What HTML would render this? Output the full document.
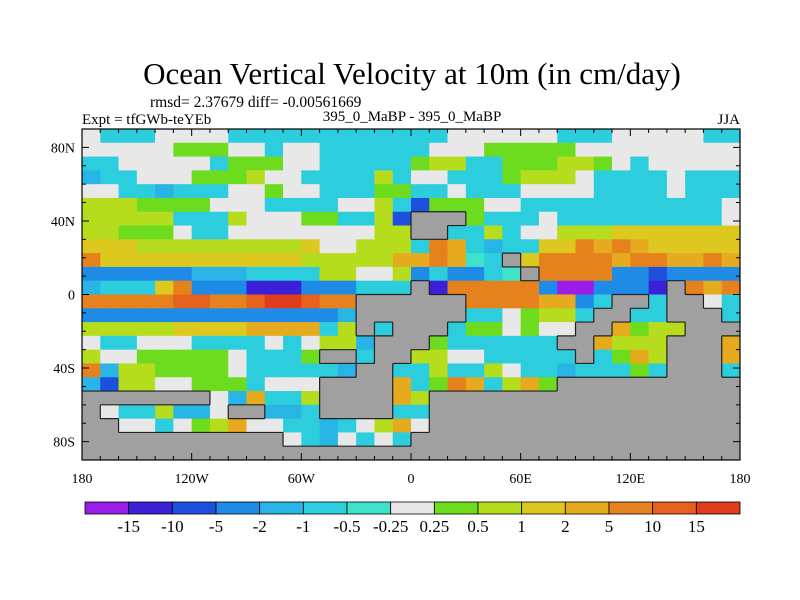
<!DOCTYPE html>
<html><head><meta charset="utf-8"><style>
body{margin:0;background:#fff;}
svg{display:block;font-family:"Liberation Serif",serif;}
</style></head><body>
<svg id="c" width="800" height="600" viewBox="0 0 800 600">
<text x="412" y="84" font-size="31" text-anchor="middle">Ocean Vertical Velocity at 10m (in cm/day)</text>
<text x="150" y="107" font-size="15.5">rmsd= 2.37679 diff= -0.00561669</text>
<text x="82" y="124" font-size="15">Expt = tfGWb-teYEb</text>
<text x="412" y="121" font-size="15" text-anchor="middle">395_0_MaBP - 395_0_MaBP</text>
<text x="740" y="124" font-size="15" text-anchor="end">JJA</text>
<g id="map"></g>
<g id="axes"></g>
<g id="cbar"></g>
</svg>
<script>
const levels=[-15,-10,-5,-2,-1,-0.5,-0.25,0.25,0.5,1,2,5,10,15];
const levelLabels=["-15","-10","-5","-2","-1","-0.5","-0.25","0.25","0.5","1","2","5","10","15"];
const colors=["#9a1ee8","#3c20d8","#1e50e0","#1e8ce6","#28b4e4","#2ccede","#3ee2c8","#e8e8e8","#6edc1e","#b6dc1e","#dcc81e","#e6aa1e","#e6821e","#e6601e","#e03c1e"];
const codeValues={P:-20,B:-12,b:-7,c:-3,t:-1.5,s:-0.7,q:-0.35,w:0,g:0.35,y:0.7,Y:1.5,o:3,O:7,r:12,R:20};
const xTicks=[-180,-120,-60,0,60,120,180];
const xTickLabels=["180","120W","60W","0","60E","120E","180"];
const yTicks=[80,40,0,-40,-80];
const yTickLabels=["80N","40N","0","40S","80S"];
const fieldRows=[
"wssswwwwsssssssssssswwwwwwssswwwwwss",
"wwwwwgggwwswwsssssswwwgggggwwwwwwwww",
"sswwwwwsgggwwsssssgyyssgggyygwswwwww",
"tsswwwgggywwssssyswwsssgyyywsssswsss",
"wwsstssswwgwwsssggsswssswwwwsssswsss",
"yyyggggwwwsssswwysbgggwwsssssssssssw",
"yyyyysssywwwggssybLLLgssswsssssssssw",
"yygggwsswwwwwwwwyyLLssyswwyyyYYYYYYY",
"YYYyyyyyyyyyYwwyyysOostssYYOoOoYYYYY",
"OYYYYYYYYYYYyyyyyooOoqsLYOOOOoOOooOo",
"cccccctttssssyywwycsccsqLOOOOccbcccc",
"tsssYOcccBBBcccsssLBOOOOOcPPcccBLOoO",
"OOOOOrrOOrRRrOOLLLLLLOOOOoocsLLsLLws",
"cccccccccccccctLLLLLLsswgyysLLssLLLs",
"yyyyyYYYYoooosyLsLLLsggwgwwLLogyyLLL",
"wsswwwsssswswyytLLLgssssssLLoyyyLLLo",
"ywwgggggwsssgLLsLLyywwsssssLsgoyLLLo",
"OtyyggggwssssstLLssyssywsstsssgsLLLs",
"tbyywwgggswwwLLLLosgOosyogLLLLLLLLLL",
"LLLLLLLwtossyLLLLoyLLLLLLLLLLLLLLLLL",
"LwssyttwLLttsLLLLssLLLLLLLLLLLLLLLLL",
"LLwwswgyowwsstswyowLLLLLLLLLLLLLLLLL",
"LLLLLLLLLLLwstwswsLLLLLLLLLLLLLLLLLL",
"LLLLLLLLLLLLLLLLLLLLLLLLLLLLLLLLLLLL"];
const NS="http://www.w3.org/2000/svg";
const X0=82,X1=740,Y0=129,Y1=460;
function xs(lon){return X0+(lon+180)/360*(X1-X0);}
function ys(lat){return Y0+(90-lat)/180*(Y1-Y0);}
function colorOf(v){let i=0;while(i<levels.length&&v>=levels[i])i++;return colors[i];}
function mk(tag,attrs,parent){const e=document.createElementNS(NS,tag);for(const k in attrs)e.setAttribute(k,attrs[k]);parent.appendChild(e);return e;}
const map=document.getElementById('map');
const nr=fieldRows.length,nc=fieldRows[0].length,dl=360/nc,dp=180/nr;
const isLand=(r,c)=>r>=0&&r<nr&&c>=0&&c<nc&&fieldRows[r][c]==='L';
for(let r=0;r<nr;r++){for(let c=0;c<nc;c++){
 const ch=fieldRows[r][c];
 const lon=-180+c*dl,lat=90-r*dp;
 const x=xs(lon),y=ys(lat),w=xs(lon+dl)-x+0.5,h=ys(lat-dp)-y+0.5;
 const fill=ch==='L'?'#a0a0a0':colorOf(codeValues[ch]);
 const cell=mk('rect',{x:x,y:y,width:w,height:h,fill:fill},map);
 
 
}}
let d='';
for(let r=0;r<nr;r++){for(let c=0;c<nc;c++){if(!isLand(r,c))continue;
 const x0=xs(-180+c*dl),x1=xs(-180+(c+1)*dl),y0=ys(90-r*dp),y1=ys(90-(r+1)*dp);
 if(r>0&&!isLand(r-1,c))d+=`M${x0},${y0}H${x1}`;
 if(r<nr-1&&!isLand(r+1,c))d+=`M${x0},${y1}H${x1}`;
 if(c>0&&!isLand(r,c-1))d+=`M${x0},${y0}V${y1}`;
 if(c<nc-1&&!isLand(r,c+1))d+=`M${x1},${y0}V${y1}`;
}}
const outline=mk('path',{d:d,fill:'none',stroke:'#222','stroke-width':1.2},map);


const axes=document.getElementById('axes');
const frame=mk('rect',{x:X0,y:Y0,width:X1-X0,height:Y1-Y0,fill:'none',stroke:'#000','stroke-width':1.2},axes);


let td='';
for(let lon=-180;lon<=180;lon+=10){const x=xs(lon),L=(lon%60===0)?7:4;td+=`M${x},${Y1}v${-L}M${x},${Y0}v${L}`;}
for(let lat=-90;lat<=90;lat+=10){const y=ys(lat),L=(lat%40===0)?7:4;td+=`M${X0},${y}h${L}M${X1},${y}h${-L}`;}
const ticks=mk('path',{d:td,stroke:'#000','stroke-width':1,fill:'none'},axes);


xTicks.forEach((v,i)=>{const t=mk('text',{x:xs(v),y:483,'font-size':14,'text-anchor':'middle'},axes);t.textContent=xTickLabels[i];
 
 });
yTicks.forEach((v,i)=>{const t=mk('text',{x:75,y:ys(v)+5,'font-size':14,'text-anchor':'end'},axes);t.textContent=yTickLabels[i];
 
 });
const cb=document.getElementById('cbar');
const CX0=85,CX1=740,CY=502,CH=12,bw=(CX1-CX0)/colors.length;
colors.forEach((col,i)=>{const r=mk('rect',{x:CX0+i*bw,y:CY,width:bw,height:CH,fill:col,stroke:'#000','stroke-width':0.8},cb);
 
 });
levelLabels.forEach((s,i)=>{const t=mk('text',{x:CX0+(i+1)*bw,y:532,'font-size':17,'text-anchor':'middle'},cb);t.textContent=s;
 
 });
</script>
</body></html>
